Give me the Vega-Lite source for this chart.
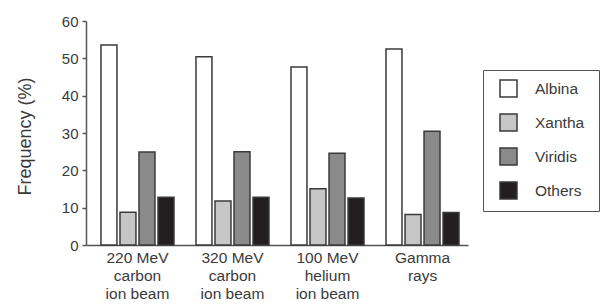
{
  "$schema": "https://vega.github.io/schema/vega-lite/v6.json",
  "width": 382,
  "height": 224,
  "autosize": "none",
  "padding": {"left": 86, "top": 21, "right": 137, "bottom": 60},
  "background": "white",
  "config": {"view": {"stroke": null}, "font": "Liberation Sans", "legend": {"strokeColor": "#555555"}},
  "data": {
    "values": [
      {"beam": "220 MeV\ncarbon\nion beam", "group": "Albina", "freq": 53.6},
      {"beam": "220 MeV\ncarbon\nion beam", "group": "Xantha", "freq": 8.8},
      {"beam": "220 MeV\ncarbon\nion beam", "group": "Viridis", "freq": 24.9},
      {"beam": "220 MeV\ncarbon\nion beam", "group": "Others", "freq": 12.8},
      {"beam": "320 MeV\ncarbon\nion beam", "group": "Albina", "freq": 50.4},
      {"beam": "320 MeV\ncarbon\nion beam", "group": "Xantha", "freq": 11.8},
      {"beam": "320 MeV\ncarbon\nion beam", "group": "Viridis", "freq": 25.0},
      {"beam": "320 MeV\ncarbon\nion beam", "group": "Others", "freq": 12.8},
      {"beam": "100 MeV\nhelium\nion beam", "group": "Albina", "freq": 47.7},
      {"beam": "100 MeV\nhelium\nion beam", "group": "Xantha", "freq": 15.1},
      {"beam": "100 MeV\nhelium\nion beam", "group": "Viridis", "freq": 24.6},
      {"beam": "100 MeV\nhelium\nion beam", "group": "Others", "freq": 12.6},
      {"beam": "Gamma\nrays", "group": "Albina", "freq": 52.5},
      {"beam": "Gamma\nrays", "group": "Xantha", "freq": 8.2},
      {"beam": "Gamma\nrays", "group": "Viridis", "freq": 30.5},
      {"beam": "Gamma\nrays", "group": "Others", "freq": 8.7}
    ]
  },
  "mark": {"type": "bar", "stroke": "#3a3a3a", "strokeWidth": 1.5},
  "encoding": {
    "x": {
      "field": "beam",
      "type": "nominal",
      "sort": null,
      "title": null,
      "scale": {"paddingInner": 0.2316, "paddingOuter": 0.126, "align": 0.625},
      "axis": {
        "labelAngle": 0,
        "labelExpr": "split(datum.label, '\\n')",
        "labelFont": "Liberation Sans",
        "labelFontSize": 15.5,
        "labelColor": "#3a3a3a",
        "labelLineHeight": 18,
        "labelPadding": 5,
        "labelBaseline": "top",
        "ticks": false,
        "domainColor": "#555555",
        "domainWidth": 1.5
      }
    },
    "xOffset": {
      "field": "group",
      "type": "nominal",
      "sort": ["Albina", "Xantha", "Viridis", "Others"],
      "scale": {"paddingInner": 0.16}
    },
    "y": {
      "field": "freq",
      "type": "quantitative",
      "scale": {"domain": [0, 60]},
      "axis": {
        "values": [0, 10, 20, 30, 40, 50, 60],
        "grid": false,
        "title": "Frequency (%)",
        "titleFont": "Liberation Sans",
        "titleFontSize": 18,
        "titleFontWeight": "normal",
        "titleColor": "#3a3a3a",
        "titleX": -61,
        "titleY": 115,
        "titleAngle": -90,
        "titleAlign": "center",
        "titleBaseline": "middle",
        "labelFont": "Liberation Sans",
        "labelFontSize": 15,
        "labelColor": "#3a3a3a",
        "labelPadding": 4,
        "tickSize": 4,
        "tickColor": "#555555",
        "tickWidth": 1.5,
        "domainColor": "#555555",
        "domainWidth": 1.5
      }
    },
    "fill": {
      "field": "group",
      "type": "nominal",
      "scale": {
        "domain": ["Albina", "Xantha", "Viridis", "Others"],
        "range": ["#ffffff", "#c6c6c6", "#8a8a8a", "#231f20"]
      },
      "legend": {
        "title": ".",
        "titleOrient": "right",
        "titleFontSize": 6,
        "titleColor": "white",
        "titlePadding": 4,
        "orient": "none",
        "legendX": 397,
        "legendY": 49,
        "padding": 9,
        "strokeColor": "#555555",
        "symbolType": "square",
        "symbolSize": 289,
        "symbolStrokeColor": "#3a3a3a",
        "symbolStrokeWidth": 1.5,
        "symbolOffset": 7,
        "labelOffset": 17,
        "rowPadding": 11,
        "labelFont": "Liberation Sans",
        "labelFontSize": 15.5,
        "labelColor": "#3a3a3a"
      }
    }
  }
}
